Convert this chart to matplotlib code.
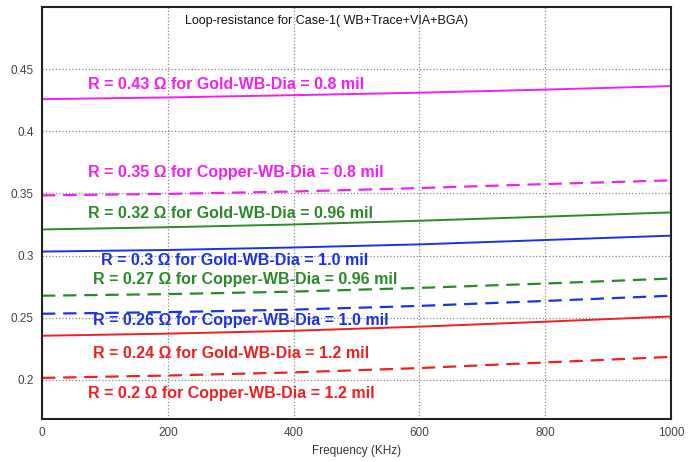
import matplotlib.pyplot as plt

plt.rcParams['font.family'] = ['Liberation Sans', 'DejaVu Sans']

# frequency sample points (KHz)
freq = [0, 200, 400, 600, 800, 1000]

# loop resistance (ohm) per wire-bond case
gold_08 = [0.4258, 0.4272, 0.4290, 0.4310, 0.4335, 0.4363]
copper_08 = [0.3484, 0.3496, 0.3515, 0.3543, 0.3575, 0.3605]
gold_096 = [0.3210, 0.3228, 0.3250, 0.3280, 0.3313, 0.3347]
gold_10 = [0.3032, 0.3045, 0.3065, 0.3090, 0.3125, 0.3160]
copper_096 = [0.2677, 0.2690, 0.2710, 0.2740, 0.2775, 0.2815]
copper_10 = [0.2532, 0.2545, 0.2565, 0.2595, 0.2635, 0.2677]
gold_12 = [0.2355, 0.2372, 0.2395, 0.2428, 0.2468, 0.2510]
copper_12 = [0.2016, 0.2035, 0.2060, 0.2095, 0.2140, 0.2185]

labels = [
    'R = 0.43 Ω for Gold-WB-Dia = 0.8 mil',
    'R = 0.35 Ω for Copper-WB-Dia = 0.8 mil',
    'R = 0.32 Ω for Gold-WB-Dia = 0.96 mil',
    'R = 0.3 Ω for Gold-WB-Dia = 1.0 mil',
    'R = 0.27 Ω for Copper-WB-Dia = 0.96 mil',
    'R = 0.26 Ω for Copper-WB-Dia = 1.0 mil',
    'R = 0.24 Ω for Gold-WB-Dia = 1.2 mil',
    'R = 0.2 Ω for Copper-WB-Dia = 1.2 mil',
]

magenta = '#f020f0'
green = '#2a8a2a'
blue = '#1a32e6'
red = '#f02020'

series = [
    (gold_08, magenta, '-'),
    (copper_08, magenta, '--'),
    (gold_096, green, '-'),
    (gold_10, blue, '-'),
    (copper_096, green, '--'),
    (copper_10, blue, '--'),
    (gold_12, red, '-'),
    (copper_12, red, '--'),
]

# label anchor (x in KHz, y in ohm)
label_pos = [
    (73, 0.4378), (73, 0.3665), (73, 0.3335), (93, 0.2960),
    (81, 0.2807), (81, 0.2475), (81, 0.2210), (73, 0.1888),
]

fig = plt.figure(figsize=(6.89, 4.62), dpi=100)
ax = fig.add_axes([0.061, 0.093, 0.913, 0.892])

for (vals, col, ls), (lx, ly), txt in zip(series, label_pos, labels):
    if ls == '--':
        ax.plot(freq, vals, color=col, linestyle=ls, linewidth=1.6, dashes=(6, 3.5))
    else:
        ax.plot(freq, vals, color=col, linestyle=ls, linewidth=1.4)
    ax.text(lx, ly, txt, color=col, fontsize=11.5, fontweight='bold',
            ha='left', va='center')

ax.set_xlim(0, 1000)
ax.set_ylim(0.1685, 0.5)
ax.set_xticks([0, 200, 400, 600, 800, 1000])
ax.set_yticks([0.2, 0.25, 0.3, 0.35, 0.4, 0.45])
ax.set_yticklabels(['0.2', '0.25', '0.3', '0.35', '0.4', '0.45'])
ax.tick_params(labelsize=8.5, colors='#444444', length=0, pad=6)
ax.grid(True, linestyle=':', color='#888888', linewidth=0.9)
for sp in ax.spines.values():
    sp.set_linewidth(1.5)
    sp.set_color('#222222')

ax.set_xlabel('Frequency (KHz)', fontsize=8.5, color='#333333', labelpad=4)
ax.text(0.452, 0.965, 'Loop-resistance for Case-1( WB+Trace+VIA+BGA)',
        transform=ax.transAxes, ha='center', va='center', fontsize=9,
        color='#111111')

fig.savefig('out.png', dpi=100)
